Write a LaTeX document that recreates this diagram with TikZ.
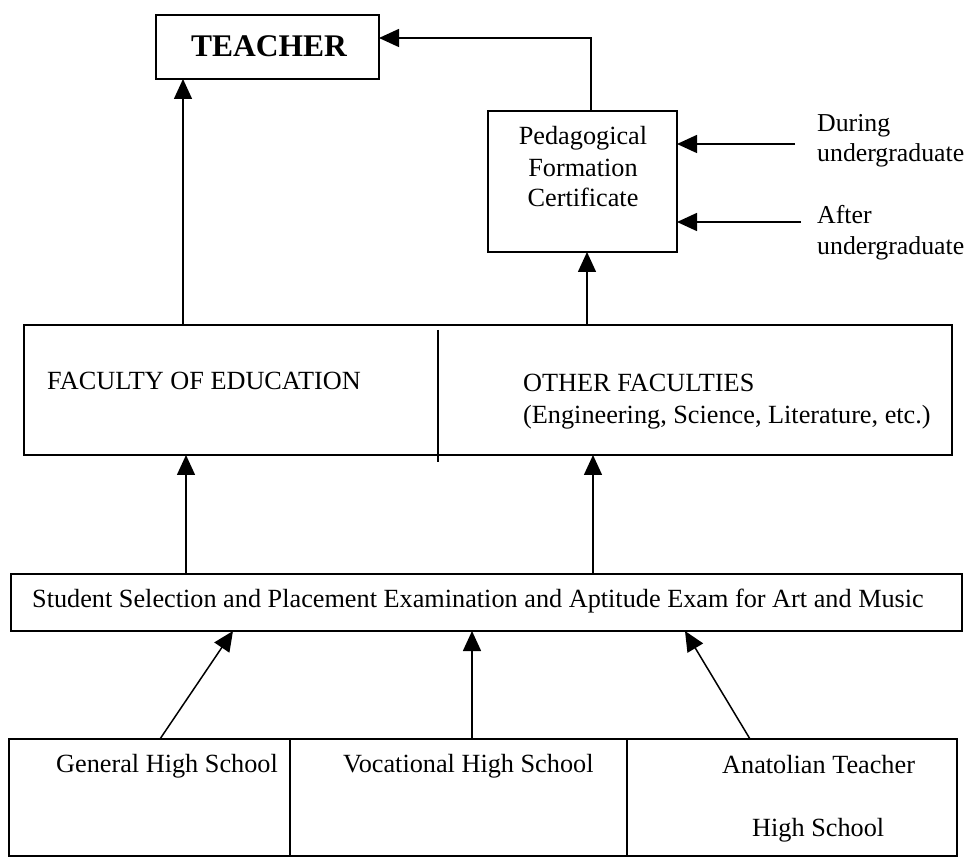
\documentclass[tikz,border=0pt]{standalone}
\usepackage{fontspec}
\setmainfont{Liberation Serif}
\usetikzlibrary{arrows.meta,calc}
\begin{document}
\begin{tikzpicture}[x=1pt,y=-1pt,
  box/.style={draw,line width=1.8pt,inner sep=0pt,outer sep=0pt,minimum width=#1},
  txt/.style={inner sep=0pt,font=\fontsize{26.25}{31}\selectfont},
  sidetxt/.style={inner sep=0pt,font=\fontsize{25.8}{31}\selectfont},
  arr/.style={line width=1.5pt,-{Triangle[width=18pt,length=20pt]}}]
\useasboundingbox (0,0) rectangle (967,858);
% boxes
\node[box=223pt,minimum height=64pt] (teacher) at (267.5,47) {};
\node[box=189pt,minimum height=141pt] (ped) at (582.5,181.5) {};
\node[box=928pt,minimum height=130pt] (fac) at (488,390) {};
\node[box=951pt,minimum height=57pt] (stu) at (486.5,602.5) {};
\node[box=281pt,minimum height=117pt] (gen) at (149.5,797.5) {};
\node[box=337pt,minimum height=117pt] (voc) at (458.5,797.5) {};
\node[box=330pt,minimum height=117pt] (ana) at (792,797.5) {};
\draw[line width=1.5pt] (438,330) -- (438,462);
% texts
\node[inner sep=0pt,anchor=base,font=\fontsize{31.5}{36}\selectfont\bfseries] (tT) at (269,57) {TEACHER};
\node[txt,anchor=base] (p1) at (583,145) {Pedagogical};
\node[txt,anchor=base] (p2) at (583,177) {Formation};
\node[txt,anchor=base] (p3) at (583,207) {Certificate};
\node[sidetxt,anchor=base west] (d1) at (817,132) {During};
\node[sidetxt,anchor=base west] (d2) at (817,162) {undergraduate};
\node[sidetxt,anchor=base west] (a1) at (817,224) {After};
\node[sidetxt,anchor=base west] (a2) at (817,255) {undergraduate};
\node[txt,anchor=base west] (fe) at (47,390) {FACULTY OF EDUCATION};
\node[txt,anchor=base west] (of1) at (523,392) {OTHER FACULTIES};
\node[txt,anchor=base west] (of2) at (523,424) {(Engineering, Science, Literature, etc.)};
\node[txt,anchor=base west] (st) at (32,607) {Student Selection and Placement Examination and Aptitude Exam for Art and Music};
\node[txt,anchor=base west] (g1) at (56,772) {General High School};
\node[txt,anchor=base west] (v1) at (343,772) {Vocational High School};
\node[txt,anchor=base west] (an1) at (722,773) {Anatolian Teacher};
\node[txt,anchor=base west] (an2) at (752,836) {High School};
% connectors
\draw[arr] ([xshift=27pt]teacher.south west |- fac.north) -- ([xshift=27pt]teacher.south west);
\draw[arr] ([xshift=8.5pt]ped.north) |- ([yshift=9pt]teacher.east);
\draw[arr] ([xshift=4.5pt]ped.south |- fac.north) -- ([xshift=4.5pt]ped.south);
\coordinate (dur) at (795,144);
\coordinate (aft) at (801,222);
\draw[arr] (dur) -- (dur -| ped.east);
\draw[arr] (aft) -- (aft -| ped.east);
\draw[arr] ([xshift=175pt]stu.north west) -- ([xshift=175pt]stu.north west |- fac.south);
\draw[arr] ([xshift=582pt]stu.north west) -- ([xshift=582pt]stu.north west |- fac.south);
\draw[arr] ([xshift=151pt]gen.north west) -- ([xshift=222pt]stu.south west);
\draw[arr] ([xshift=182pt]voc.north west) -- ([xshift=182pt]voc.north west |- stu.south);
\draw[arr] ([xshift=123pt]ana.north west) -- ([xshift=674pt]stu.south west);
\end{tikzpicture}
\end{document}
